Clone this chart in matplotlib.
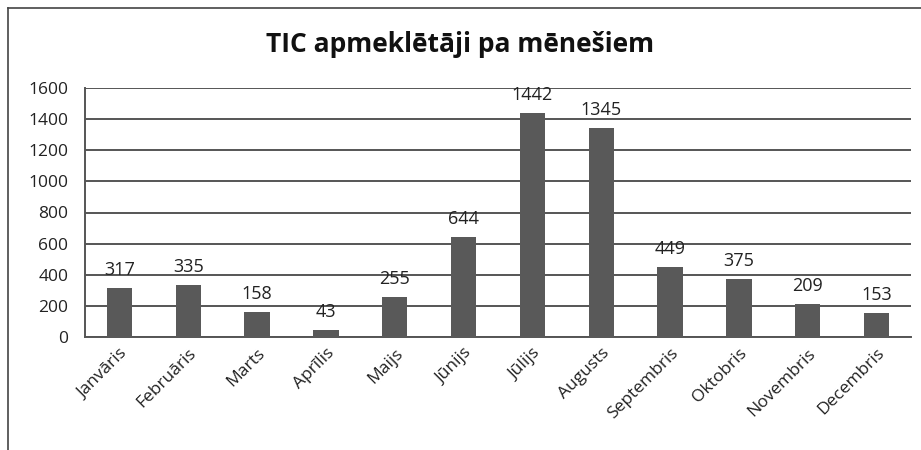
import matplotlib
matplotlib.use("Agg")
import matplotlib.pyplot as plt
from matplotlib.lines import Line2D

months = ["Janvāris", "Februāris", "Marts", "Aprīlis", "Maijs", "Jūnijs",
          "Jūlijs", "Augusts", "Septembris", "Oktobris", "Novembris", "Decembris"]
visitors = [317, 335, 158, 43, 255, 644, 1442, 1345, 449, 375, 209, 153]
yticks = [0, 200, 400, 600, 800, 1000, 1200, 1400, 1600]
title = "TIC apmeklētāji pa mēnešiem"

plt.rcParams['font.family'] = ['Open Sans', 'DejaVu Sans']

W, H = 921, 450
fig = plt.figure(figsize=(W / 100, H / 100), dpi=100)
ax = fig.add_axes([85 / W, 1 - 337 / H, (911 - 85) / W, (337 - 88) / H])

x = list(range(len(months)))
ax.bar(x, visitors, width=0.37, color="#595959", zorder=3)
ax.set_xlim(-0.5, len(months) - 0.5)
ax.set_ylim(0, 1600)
ax.set_yticks(yticks)
ax.set_yticklabels([str(v) for v in yticks], fontsize=12.5, color="#222222")
ax.yaxis.grid(True, color="#555555", linewidth=1.4, zorder=0)
ax.tick_params(axis='y', length=0, pad=12)
ax.tick_params(axis='x', length=0, pad=6)
ax.set_xticks(x)
ax.set_xticklabels(months, rotation=45, ha='right', rotation_mode='anchor',
                   fontsize=12.5, color="#222222")
for s in ax.spines.values():
    s.set_color("#555555")
    s.set_linewidth(1.4)
ax.spines['top'].set_visible(False)
ax.spines['right'].set_visible(False)

for xi, v in zip(x, visitors):
    ax.annotate(str(v), (xi, v), xytext=(0, 13), textcoords='offset points',
                ha='center', va='center', fontsize=13, color="#222222")

fig.text(0.5, 1 - 45 / H, title, ha='center', va='center', fontsize=19,
         fontweight='bold', color="#111111")

# outer frame
fig.add_artist(Line2D([8 / W, 8 / W], [0, 1 - 8 / H], color="#444444", lw=1.2,
                      transform=fig.transFigure))
fig.add_artist(Line2D([8 / W, 1], [1 - 8 / H, 1 - 8 / H], color="#444444", lw=1.2,
                      transform=fig.transFigure))

fig.savefig("out.png", dpi=100, facecolor="white")
